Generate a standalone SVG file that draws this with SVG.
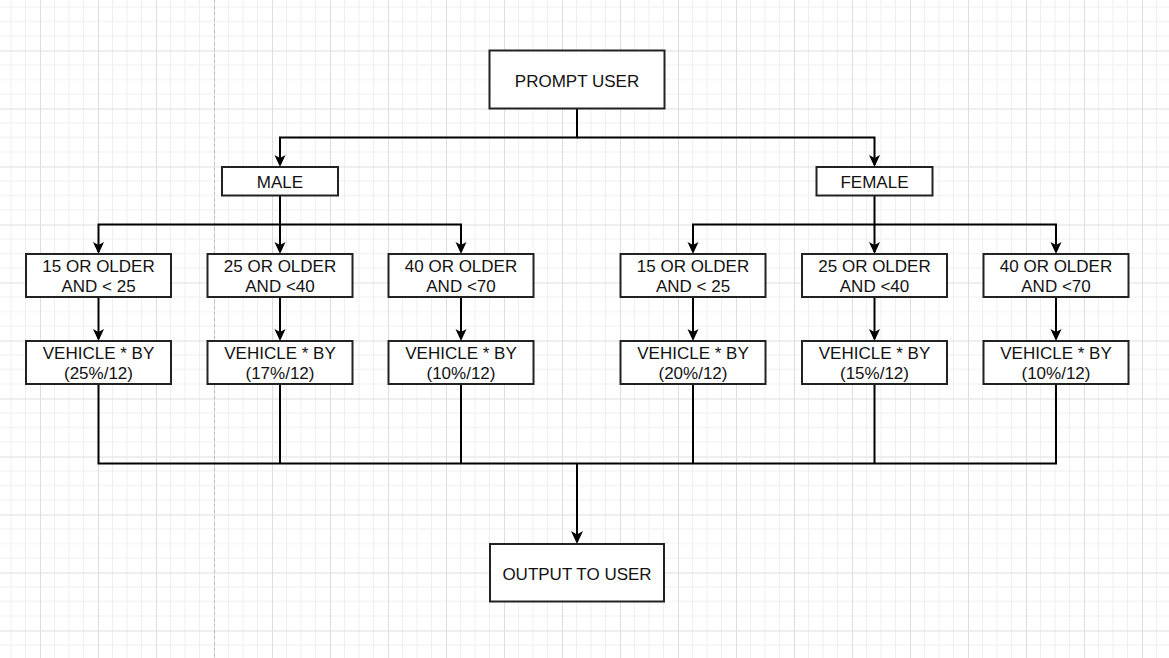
<svg xmlns="http://www.w3.org/2000/svg" width="1169" height="658" viewBox="0 0 1169 658">
<defs>
<pattern id="grid" patternUnits="userSpaceOnUse" x="40" y="50.5" width="58" height="58">
<path d="M14.5 0V58M29 0V58M43.5 0V58M0 14.5H58M0 29H58M0 43.5H58" stroke="#efefef" stroke-width="1" fill="none"/>
<path d="M0.5 0V58M0 0.5H58" stroke="#dedede" stroke-width="1" fill="none"/>
</pattern>
<marker id="arr" viewBox="-6 -13 12 14" refX="0" refY="0" markerWidth="12" markerHeight="14" markerUnits="userSpaceOnUse" orient="auto-start-reverse">
<path d="M0 0L-5.5 -12L0 -9L5.5 -12Z" fill="#000" transform="rotate(-90)"/>
</marker>
<style>
.box{fill:#fff;stroke:#222;stroke-width:2}
.t{font-family:"Liberation Sans",Arial,sans-serif;font-size:17px;fill:#111;text-anchor:middle}
.c{fill:none;stroke:#000;stroke-width:2}
</style>
</defs>
<rect width="1169" height="658" fill="#fff"/>
<rect width="1169" height="658" fill="url(#grid)"/>
<line x1="214.5" y1="0" x2="214.5" y2="658" stroke="#bdbdbd" stroke-width="1" stroke-dasharray="3 3"/>

<g id="connectors">
<path class="c" d="M577 108.5V137.5H280V165"/>
<path class="c" d="M577 137.5H874.5V165"/>
<path class="c" d="M280 195.5V224.5H98.5V252"/>
<path class="c" d="M280 224.5V252"/>
<path class="c" d="M280 224.5H461V252"/>
<path class="c" d="M874.5 195.5V224.5H693V252"/>
<path class="c" d="M874.5 224.5V252"/>
<path class="c" d="M874.5 224.5H1056V252"/>
<path class="c" d="M98.5 297V339"/>
<path class="c" d="M280 297V339"/>
<path class="c" d="M461 297V339"/>
<path class="c" d="M693 297V339"/>
<path class="c" d="M874.5 297V339"/>
<path class="c" d="M1056 297V339"/>
<path class="c" d="M98.5 384V463.5H1056V384"/>
<path class="c" d="M280 384V463.5M461 384V463.5M693 384V463.5M874.5 384V463.5"/>
<path class="c" d="M577 463.5V540" stroke-width="2.6"/>
<g fill="#000">
<path d="M280 167L274.5 155L280 158L285.5 155Z"/>
<path d="M874.5 167L869 155L874.5 158L880 155Z"/>
<path d="M98.5 254L93 242L98.5 245L104 242Z"/>
<path d="M280 254L274.5 242L280 245L285.5 242Z"/>
<path d="M461 254L455.5 242L461 245L466.5 242Z"/>
<path d="M693 254L687.5 242L693 245L698.5 242Z"/>
<path d="M874.5 254L869 242L874.5 245L880 242Z"/>
<path d="M1056 254L1050.5 242L1056 245L1061.5 242Z"/>
<path d="M98.5 341L93 329L98.5 332L104 329Z"/>
<path d="M280 341L274.5 329L280 332L285.5 329Z"/>
<path d="M461 341L455.5 329L461 332L466.5 329Z"/>
<path d="M693 341L687.5 329L693 332L698.5 329Z"/>
<path d="M874.5 341L869 329L874.5 332L880 329Z"/>
<path d="M1056 341L1050.5 329L1056 332L1061.5 329Z"/>
<path d="M577 544L571 531L577 534.5L583 531Z"/>
</g>
</g>

<g id="prompt"><rect class="box" x="489.5" y="50.5" width="175" height="58"/><text class="t" x="577" y="87">PROMPT USER</text></g>
<g id="male"><rect class="box" x="222" y="167" width="116" height="28.5"/><text class="t" x="280" y="188">MALE</text></g>
<g id="female"><rect class="box" x="816.5" y="167" width="116" height="28.5"/><text class="t" x="874.5" y="188">FEMALE</text></g>

<g id="m1"><rect class="box" x="26" y="254" width="145" height="43"/><text class="t" x="98.5" y="272">15 OR OLDER</text><text class="t" x="98.5" y="292">AND &lt; 25</text></g>
<g id="m2"><rect class="box" x="207.5" y="254" width="145" height="43"/><text class="t" x="280" y="272">25 OR OLDER</text><text class="t" x="280" y="292">AND &lt;40</text></g>
<g id="m3"><rect class="box" x="388.5" y="254" width="145" height="43"/><text class="t" x="461" y="272">40 OR OLDER</text><text class="t" x="461" y="292">AND &lt;70</text></g>
<g id="f1"><rect class="box" x="620.5" y="254" width="145" height="43"/><text class="t" x="693" y="272">15 OR OLDER</text><text class="t" x="693" y="292">AND &lt; 25</text></g>
<g id="f2"><rect class="box" x="802" y="254" width="145" height="43"/><text class="t" x="874.5" y="272">25 OR OLDER</text><text class="t" x="874.5" y="292">AND &lt;40</text></g>
<g id="f3"><rect class="box" x="983.5" y="254" width="145" height="43"/><text class="t" x="1056" y="272">40 OR OLDER</text><text class="t" x="1056" y="292">AND &lt;70</text></g>

<g id="mv1"><rect class="box" x="26" y="341" width="145" height="43"/><text class="t" x="98.5" y="359">VEHICLE * BY</text><text class="t" x="98.5" y="379">(25%/12)</text></g>
<g id="mv2"><rect class="box" x="207.5" y="341" width="145" height="43"/><text class="t" x="280" y="359">VEHICLE * BY</text><text class="t" x="280" y="379">(17%/12)</text></g>
<g id="mv3"><rect class="box" x="388.5" y="341" width="145" height="43"/><text class="t" x="461" y="359">VEHICLE * BY</text><text class="t" x="461" y="379">(10%/12)</text></g>
<g id="fv1"><rect class="box" x="620.5" y="341" width="145" height="43"/><text class="t" x="693" y="359">VEHICLE * BY</text><text class="t" x="693" y="379">(20%/12)</text></g>
<g id="fv2"><rect class="box" x="802" y="341" width="145" height="43"/><text class="t" x="874.5" y="359">VEHICLE * BY</text><text class="t" x="874.5" y="379">(15%/12)</text></g>
<g id="fv3"><rect class="box" x="983.5" y="341" width="145" height="43"/><text class="t" x="1056" y="359">VEHICLE * BY</text><text class="t" x="1056" y="379">(10%/12)</text></g>

<g id="output"><rect class="box" x="490" y="544" width="174" height="57.5"/><text class="t" x="577" y="580">OUTPUT TO USER</text></g>
</svg>
